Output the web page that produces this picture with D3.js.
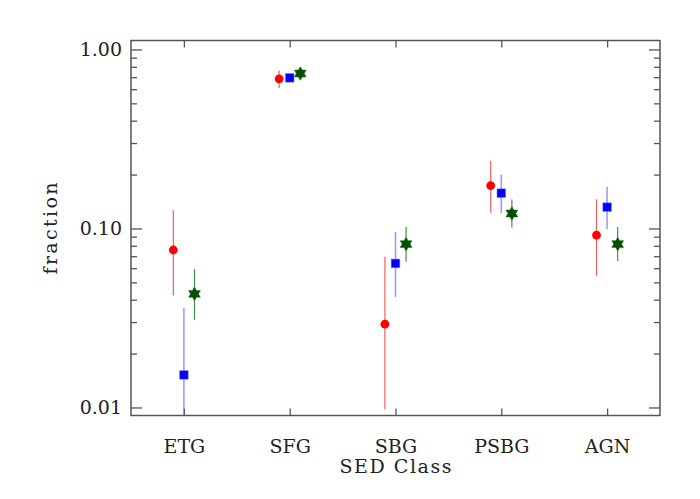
<!DOCTYPE html>
<html>
<head>
<meta charset="utf-8">
<script src="https://cdn.jsdelivr.net/npm/d3@7"></script>
<style>
  html, body { margin: 0; padding: 0; background: #fff; }
  svg { display: block; }
</style>
</head>
<body>
<svg id="chart" width="700" height="499"></svg>
<script>
// ---- data ----
const categories = ["ETG", "SFG", "SBG", "PSBG", "AGN"];
const yTickValues = [0.01, 0.1, 1];
const yTickLabels = ["0.01", "0.10", "1.00"];

// series 1 (red circles)
const redValues = [0.0758, 0.685, 0.0292, 0.1736, 0.0919];
const redLow    = [0.0422, 0.610, 0.00973, 0.1223, 0.0545];
const redHigh   = [0.1266, 0.763, 0.0695, 0.2383, 0.1458];
// series 2 (blue squares)
const blueValues = [0.0152, 0.694, 0.0638, 0.1575, 0.1316];
const blueLow    = [0.004, 0.660, 0.0413, 0.1218, 0.0992];
const blueHigh   = [0.0361, 0.730, 0.0959, 0.1999, 0.1714];
// series 3 (green stars)
const greenValues = [0.0431, 0.734, 0.0818, 0.1212, 0.0818];
const greenLow    = [0.0309, 0.715, 0.0652, 0.1013, 0.0655];
const greenHigh   = [0.0591, 0.755, 0.1020, 0.1450, 0.1018];

const xLabel = "SED Class";
const yLabel = "fraction";

// ---- layout ----
const L = 131, R = 660, T = 40.5, B = 415.5;
const svg = d3.select("#chart");
const axisColor = "#555";
const font = "'DejaVu Serif', serif";

const x = d3.scaleLinear().domain([0.5, categories.length + 0.5]).range([L, R]);
const y = d3.scaleLog().domain([0.00902, 1.122]).range([B, T]);

const minorTicks = [];
for (let e = -3; e <= 0; e++) {
  for (let m = 2; m <= 9; m++) {
    const v = m * Math.pow(10, e);
    if (v > y.domain()[0] && v < y.domain()[1]) minorTicks.push(v);
  }
}

// clip
svg.append("defs").append("clipPath").attr("id", "clip")
  .append("rect").attr("x", L).attr("y", T).attr("width", R - L).attr("height", B - T);

function styleAxis(g) {
  g.select(".domain").remove();
  g.selectAll(".tick line").attr("stroke", axisColor).attr("stroke-width", 1.3);
  g.selectAll(".tick text").attr("fill", "#222").attr("font-family", font).attr("font-size", 19);
}

// left axis major
svg.append("g").attr("transform", `translate(${L},0)`)
  .call(d3.axisLeft(y).tickValues(yTickValues).tickSize(-11).tickPadding(9)
    .tickFormat((d, i) => yTickLabels[i]))
  .call(styleAxis);
// left axis minor
svg.append("g").attr("transform", `translate(${L},0)`)
  .call(d3.axisLeft(y).tickValues(minorTicks).tickSize(-6).tickFormat(""))
  .call(styleAxis);
// right axis
svg.append("g").attr("transform", `translate(${R},0)`)
  .call(d3.axisRight(y).tickValues(yTickValues).tickSize(-11).tickFormat(""))
  .call(styleAxis);
svg.append("g").attr("transform", `translate(${R},0)`)
  .call(d3.axisRight(y).tickValues(minorTicks).tickSize(-6).tickFormat(""))
  .call(styleAxis);
// bottom axis
svg.append("g").attr("transform", `translate(0,${B})`)
  .call(d3.axisBottom(x).tickValues(d3.range(1, categories.length + 1)).tickSize(-7).tickPadding(24)
    .tickFormat(d => categories[d - 1]))
  .call(styleAxis);
// top axis
svg.append("g").attr("transform", `translate(0,${T})`)
  .call(d3.axisTop(x).tickValues(d3.range(1, categories.length + 1)).tickSize(-7).tickFormat(""))
  .call(styleAxis);

// frame
svg.append("rect").attr("x", L).attr("y", T).attr("width", R - L).attr("height", B - T)
  .attr("fill", "none").attr("stroke", axisColor).attr("stroke-width", 1.5);

// labels
svg.append("text").attr("x", (L + R) / 2).attr("y", 473)
  .attr("text-anchor", "middle").attr("font-family", font).attr("font-size", 19)
  .attr("fill", "#222").attr("textLength", 112).attr("lengthAdjust", "spacing").text(xLabel);
svg.append("text").attr("transform", `translate(57,228.5) rotate(-90)`)
  .attr("text-anchor", "middle").attr("font-family", font).attr("font-size", 19)
  .attr("fill", "#222").attr("textLength", 92).attr("lengthAdjust", "spacing").text(yLabel);

// series
const series = [
  { vals: redValues, lo: redLow, hi: redHigh, off: -0.1, bar: "rgba(235,40,40,0.75)", fill: "#ff0000", shape: "circle" },
  { vals: blueValues, lo: blueLow, hi: blueHigh, off: 0, bar: "rgba(90,90,255,0.6)", fill: "#0000ff", shape: "square" },
  { vals: greenValues, lo: greenLow, hi: greenHigh, off: 0.1, bar: "rgba(20,120,20,0.8)", fill: "#005000", shape: "star" }
];

const plot = svg.append("g").attr("clip-path", "url(#clip)");

// error bars first
series.forEach(s => {
  plot.append("g").selectAll("line").data(categories).join("line")
    .attr("x1", (d, i) => x(i + 1 + s.off)).attr("x2", (d, i) => x(i + 1 + s.off))
    .attr("y1", (d, i) => y(s.lo[i])).attr("y2", (d, i) => y(s.hi[i]))
    .attr("stroke", s.bar).attr("stroke-width", s.shape === "square" ? 1.6 : 1.2);
});

// six-pointed star path
function starPath(rOuter) {
  const pts = [];
  for (let k = 0; k < 12; k++) {
    const r = k % 2 === 0 ? rOuter : rOuter * 0.58;
    const a = -Math.PI / 2 + k * Math.PI / 6;
    pts.push([r * Math.cos(a), r * Math.sin(a)]);
  }
  return d3.line()(pts) + "Z";
}

series.forEach(s => {
  const g = plot.append("g");
  const sel = g.selectAll("g").data(categories).join("g")
    .attr("transform", (d, i) => `translate(${x(i + 1 + s.off)},${y(s.vals[i])})`);
  if (s.shape === "circle") {
    sel.append("circle").attr("r", 4.4).attr("fill", s.fill);
  } else if (s.shape === "square") {
    sel.append("rect").attr("x", -4.3).attr("y", -4.3).attr("width", 8.6).attr("height", 8.6)
      .attr("fill", s.fill).attr("stroke", "rgba(120,120,255,0.6)").attr("stroke-width", 0.8);
  } else {
    sel.append("path").attr("d", starPath(6.8)).attr("fill", s.fill)
      .attr("stroke", "rgba(40,110,40,0.7)").attr("stroke-width", 0.8);
  }
});
</script>
</body>
</html>
